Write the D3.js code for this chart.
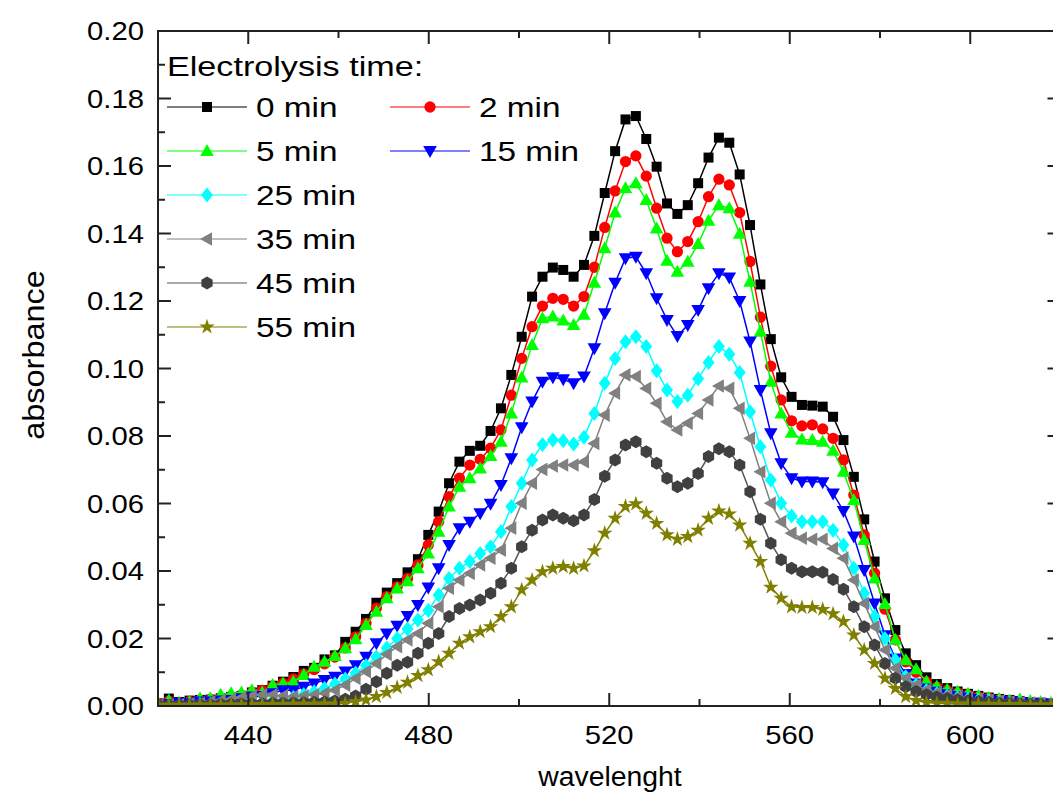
<!DOCTYPE html>
<html><head><meta charset="utf-8">
<script src="https://cdn.jsdelivr.net/npm/d3@7"></script>
<style>body{margin:0;background:#fff}svg{display:block}text{font-family:"Liberation Sans",Arial,sans-serif;fill:#000}</style>
</head><body>
<script>
const wavelengths=[420.1,422.4,424.7,427.0,429.3,431.6,433.9,436.2,438.5,440.8,443.1,445.4,447.7,450.0,452.3,454.6,456.9,459.2,461.5,463.8,466.1,468.4,470.7,473.0,475.3,477.6,479.9,482.2,484.5,486.8,489.1,491.4,493.7,496.0,498.3,500.6,502.9,505.2,507.5,509.8,512.1,514.4,516.7,519.0,521.3,523.6,525.9,528.2,530.5,532.8,535.1,537.4,539.7,542.0,544.3,546.6,548.9,551.2,553.5,555.8,558.1,560.4,562.7,565.0,567.3,569.6,571.9,574.2,576.5,578.8,581.1,583.4,585.7,588.0,590.3,592.6,594.9,597.2,599.5,601.8,604.1,606.4,608.7,611.0,613.3,615.6,617.9];
const min0=[0.0008,0.0022,0.0012,0.0016,0.0018,0.0019,0.0023,0.0027,0.0030,0.0040,0.0047,0.0060,0.0072,0.0086,0.0104,0.0113,0.0138,0.0150,0.0190,0.0220,0.0258,0.0306,0.0336,0.0364,0.0396,0.0435,0.0507,0.0576,0.0660,0.0724,0.0756,0.0771,0.0815,0.0882,0.0981,0.1094,0.1213,0.1272,0.1299,0.1292,0.1272,0.1307,0.1393,0.1520,0.1644,0.1738,0.1748,0.1680,0.1598,0.1489,0.1458,0.1484,0.1549,0.1625,0.1684,0.1669,0.1575,0.1425,0.1249,0.1087,0.0974,0.0916,0.0892,0.0890,0.0887,0.0857,0.0788,0.0679,0.0553,0.0428,0.0319,0.0225,0.0156,0.0121,0.0085,0.0065,0.0053,0.0043,0.0036,0.0030,0.0025,0.0021,0.0018,0.0015,0.0012,0.0010,0.0008];
const min2=[0.0006,0.0015,0.0010,0.0014,0.0017,0.0019,0.0024,0.0028,0.0032,0.0040,0.0046,0.0058,0.0068,0.0080,0.0095,0.0108,0.0125,0.0145,0.0172,0.0205,0.0245,0.0290,0.0324,0.0353,0.0378,0.0418,0.0477,0.0546,0.0620,0.0675,0.0714,0.0731,0.0764,0.0818,0.0921,0.1030,0.1124,0.1185,0.1208,0.1205,0.1185,0.1213,0.1300,0.1418,0.1526,0.1613,0.1630,0.1570,0.1475,0.1386,0.1346,0.1376,0.1435,0.1509,0.1561,0.1544,0.1462,0.1317,0.1152,0.1007,0.0907,0.0845,0.0830,0.0833,0.0821,0.0793,0.0729,0.0625,0.0507,0.0393,0.0287,0.0196,0.0131,0.0100,0.0072,0.0056,0.0046,0.0039,0.0033,0.0028,0.0023,0.0019,0.0016,0.0014,0.0011,0.0009,0.0007];
const min5=[0.0006,0.0016,0.0010,0.0012,0.0023,0.0023,0.0033,0.0038,0.0040,0.0047,0.0040,0.0062,0.0067,0.0072,0.0092,0.0116,0.0131,0.0148,0.0171,0.0198,0.0240,0.0279,0.0319,0.0348,0.0370,0.0408,0.0452,0.0516,0.0591,0.0650,0.0675,0.0704,0.0741,0.0783,0.0867,0.0973,0.1070,0.1149,0.1154,0.1142,0.1129,0.1159,0.1254,0.1356,0.1462,0.1534,0.1549,0.1499,0.1415,0.1319,0.1287,0.1316,0.1369,0.1438,0.1484,0.1475,0.1399,0.1257,0.1109,0.0961,0.0867,0.0810,0.0790,0.0788,0.0783,0.0756,0.0694,0.0610,0.0492,0.0378,0.0302,0.0196,0.0136,0.0109,0.0072,0.0058,0.0048,0.0042,0.0036,0.0030,0.0024,0.0021,0.0016,0.0019,0.0015,0.0012,0.0009];
const min15=[0.0003,0.0006,0.0010,0.0008,0.0013,0.0013,0.0016,0.0018,0.0023,0.0028,0.0030,0.0038,0.0047,0.0047,0.0057,0.0067,0.0077,0.0087,0.0102,0.0121,0.0146,0.0186,0.0215,0.0238,0.0267,0.0299,0.0351,0.0408,0.0477,0.0527,0.0546,0.0571,0.0599,0.0655,0.0734,0.0826,0.0902,0.0961,0.0974,0.0968,0.0956,0.0976,0.1060,0.1164,0.1254,0.1327,0.1331,0.1282,0.1208,0.1144,0.1096,0.1129,0.1173,0.1238,0.1282,0.1270,0.1200,0.1080,0.0936,0.0808,0.0719,0.0675,0.0665,0.0665,0.0663,0.0630,0.0578,0.0502,0.0403,0.0304,0.0210,0.0141,0.0095,0.0067,0.0052,0.0042,0.0035,0.0030,0.0025,0.0021,0.0018,0.0015,0.0013,0.0011,0.0009,0.0008,0.0006];
const min25=[0.0002,0.0003,0.0003,0.0004,0.0005,0.0005,0.0006,0.0007,0.0008,0.0009,0.0010,0.0013,0.0018,0.0025,0.0033,0.0042,0.0052,0.0065,0.0080,0.0098,0.0120,0.0145,0.0172,0.0200,0.0228,0.0255,0.0283,0.0329,0.0378,0.0408,0.0428,0.0452,0.0472,0.0516,0.0591,0.0660,0.0729,0.0775,0.0788,0.0786,0.0776,0.0796,0.0867,0.0956,0.1030,0.1079,0.1094,0.1065,0.0993,0.0936,0.0902,0.0921,0.0970,0.1018,0.1065,0.1042,0.0988,0.0872,0.0768,0.0670,0.0601,0.0563,0.0546,0.0546,0.0546,0.0521,0.0477,0.0408,0.0334,0.0265,0.0200,0.0136,0.0087,0.0062,0.0046,0.0036,0.0030,0.0025,0.0021,0.0018,0.0015,0.0012,0.0010,0.0009,0.0008,0.0006,0.0005];
const min35=[0.0002,0.0003,0.0004,0.0006,0.0008,0.0012,0.0016,0.0020,0.0025,0.0030,0.0033,0.0033,0.0030,0.0028,0.0030,0.0033,0.0038,0.0047,0.0062,0.0082,0.0102,0.0126,0.0153,0.0176,0.0196,0.0215,0.0245,0.0294,0.0349,0.0373,0.0393,0.0418,0.0438,0.0462,0.0527,0.0601,0.0660,0.0701,0.0711,0.0714,0.0714,0.0724,0.0778,0.0862,0.0927,0.0981,0.0976,0.0941,0.0897,0.0842,0.0818,0.0838,0.0867,0.0907,0.0948,0.0941,0.0882,0.0793,0.0694,0.0601,0.0546,0.0512,0.0497,0.0494,0.0494,0.0467,0.0438,0.0373,0.0304,0.0235,0.0166,0.0112,0.0082,0.0062,0.0048,0.0040,0.0033,0.0028,0.0024,0.0020,0.0017,0.0014,0.0012,0.0010,0.0009,0.0007,0.0006];
const min45=[0.0002,0.0002,0.0003,0.0003,0.0004,0.0004,0.0005,0.0005,0.0006,0.0006,0.0007,0.0008,0.0008,0.0009,0.0010,0.0011,0.0012,0.0015,0.0020,0.0030,0.0050,0.0072,0.0097,0.0121,0.0130,0.0156,0.0186,0.0215,0.0265,0.0289,0.0299,0.0314,0.0334,0.0364,0.0408,0.0472,0.0521,0.0551,0.0566,0.0556,0.0549,0.0566,0.0612,0.0681,0.0729,0.0773,0.0783,0.0753,0.0719,0.0675,0.0650,0.0660,0.0689,0.0739,0.0762,0.0753,0.0714,0.0635,0.0553,0.0482,0.0433,0.0408,0.0398,0.0398,0.0396,0.0375,0.0346,0.0294,0.0235,0.0181,0.0126,0.0082,0.0057,0.0043,0.0033,0.0027,0.0022,0.0018,0.0015,0.0013,0.0011,0.0009,0.0008,0.0007,0.0006,0.0005,0.0004];
const min55=[0.0002,0.0002,0.0002,0.0002,0.0003,0.0003,0.0003,0.0003,0.0003,0.0004,0.0004,0.0004,0.0004,0.0005,0.0005,0.0005,0.0006,0.0006,0.0008,0.0013,0.0018,0.0028,0.0040,0.0055,0.0070,0.0090,0.0107,0.0131,0.0156,0.0186,0.0205,0.0220,0.0235,0.0265,0.0294,0.0344,0.0373,0.0398,0.0408,0.0413,0.0408,0.0415,0.0460,0.0512,0.0556,0.0591,0.0599,0.0571,0.0541,0.0507,0.0494,0.0502,0.0521,0.0556,0.0578,0.0569,0.0536,0.0482,0.0428,0.0352,0.0319,0.0294,0.0292,0.0292,0.0286,0.0273,0.0250,0.0210,0.0166,0.0126,0.0082,0.0052,0.0028,0.0016,0.0010,0.0008,0.0007,0.0006,0.0006,0.0005,0.0005,0.0004,0.0004,0.0004,0.0003,0.0003,0.0003];
const seriesNames=["0 min","2 min","5 min","15 min","25 min","35 min","45 min","55 min"];
const seriesColors=["#000000","#ff0000","#00ff00","#0000ff","#00ffff","#808080","#404040","#808000"];
const lineColors=["#000000","#ff0000","#00ff00","#0000ff","#00ffff","#808080","#555555","#808000"];
const seriesValues=[min0,min2,min5,min15,min25,min35,min45,min55];
const xTicks=[440,480,520,560,600];
const yTicks=[0,0.02,0.04,0.06,0.08,0.10,0.12,0.14,0.16,0.18,0.20];

const W=1053,H=799;
const L=158,R=1060.5,T=31,B=706;
const SX=1.17;
const svg=d3.select("body").append("svg").attr("width",W).attr("height",H);
const x=d3.scaleLinear().domain([420,620]).range([L,R]);
const y=d3.scaleLinear().domain([0,0.20]).range([B,T]);

const shapes={
  square:"M-5,-5H5V5H-5Z",
  circle:d3.symbol(d3.symbolCircle,100)(),
  up:"M0,-7L6.8,5L-6.8,5Z",
  down:"M0,7L6.8,-5L-6.8,-5Z",
  diamond:"M0,-7.5L6,0L0,7.5L-6,0Z",
  left:"M-7,0L5,-6.8L5,6.8Z",
  hex:(()=>{let p=[];for(let i=0;i<6;i++){const a=Math.PI/6+i*Math.PI/3;p.push([6.5*Math.cos(a),6.5*Math.sin(a)]);}return "M"+p.map(d=>d.join(",")).join("L")+"Z";})(),
  star:d3.symbol(d3.symbolStar,75)()
};
const seriesShapes=["square","circle","up","down","diamond","left","hex","star"];

svg.append("clipPath").attr("id","c").append("rect").attr("x",L).attr("y",T-10).attr("width",R-L).attr("height",B-T+10);
const plot=svg.append("g").attr("clip-path","url(#c)");
const line=d3.line().x((d,i)=>x(wavelengths[i])).y(d=>y(d));
seriesValues.forEach((vals,k)=>{
  const g=plot.append("g");
  g.append("path").attr("d",line(vals)).attr("fill","none").attr("stroke",lineColors[k]).attr("stroke-width",1.5);
  g.selectAll("path.m").data(vals).enter().append("path").attr("class","m")
    .attr("d",shapes[seriesShapes[k]])
    .attr("transform",(d,i)=>`translate(${x(wavelengths[i])},${y(d)})`)
    .attr("fill",seriesColors[k]);
});

const ax=svg.append("g").attr("stroke","#222").attr("stroke-width",2).attr("fill","none");
ax.append("rect").attr("x",L).attr("y",T).attr("width",R-L).attr("height",B-T);
d3.range(420,621,20).forEach(v=>{
  const len=xTicks.includes(v)?13:7;
  ax.append("line").attr("x1",x(v)).attr("x2",x(v)).attr("y1",B).attr("y2",B-len);
  ax.append("line").attr("x1",x(v)).attr("x2",x(v)).attr("y1",T).attr("y2",T+len);
});
d3.range(0,21).forEach(i=>{
  const v=i*0.01, len=(i%2===0)?13:7;
  ax.append("line").attr("x1",L).attr("x2",L+len).attr("y1",y(v)).attr("y2",y(v));
  ax.append("line").attr("x1",R).attr("x2",R-len).attr("y1",y(v)).attr("y2",y(v));
});
svg.selectAll("text.xt").data(xTicks).enter().append("text").attr("class","xt")
  .attr("transform",d=>`translate(${x(d)},${B+38}) scale(${SX},1)`).attr("text-anchor","middle").attr("font-size",25).text(d=>d);
svg.selectAll("text.yt").data(yTicks).enter().append("text").attr("class","yt")
  .attr("transform",d=>`translate(${L-14},${y(d)+9}) scale(${SX},1)`).attr("text-anchor","end").attr("font-size",25).text(d=>d.toFixed(2));
svg.append("text").attr("transform",`translate(610,786) scale(1.05,1)`).attr("text-anchor","middle").attr("font-size",27).text("wavelenght");
svg.append("text").attr("transform","translate(44,355) rotate(-90) scale(1.12,1)").attr("text-anchor","middle").attr("font-size",29).text("absorbance");

svg.append("text").attr("transform",`translate(167,76) scale(1.22,1)`).attr("font-size",28).text("Electrolysis time:");
const legPos=[[0,0],[1,0],[0,1],[1,1],[0,2],[0,3],[0,4],[0,5]];
seriesNames.forEach((n,k)=>{
  const [c,r]=legPos[k];
  const x0=c===0?167:390, yy=107+r*44;
  const g=svg.append("g");
  g.append("line").attr("x1",x0).attr("x2",x0+80).attr("y1",yy).attr("y2",yy).attr("stroke",lineColors[k]).attr("stroke-width",1.2);
  g.append("path").attr("d",shapes[seriesShapes[k]]).attr("transform",`translate(${x0+40},${yy})`).attr("fill",seriesColors[k]);
  g.append("text").attr("transform",`translate(${x0+89},${yy+10}) scale(1.19,1)`).attr("font-size",28).text(n);
});
</script>
</body></html>
